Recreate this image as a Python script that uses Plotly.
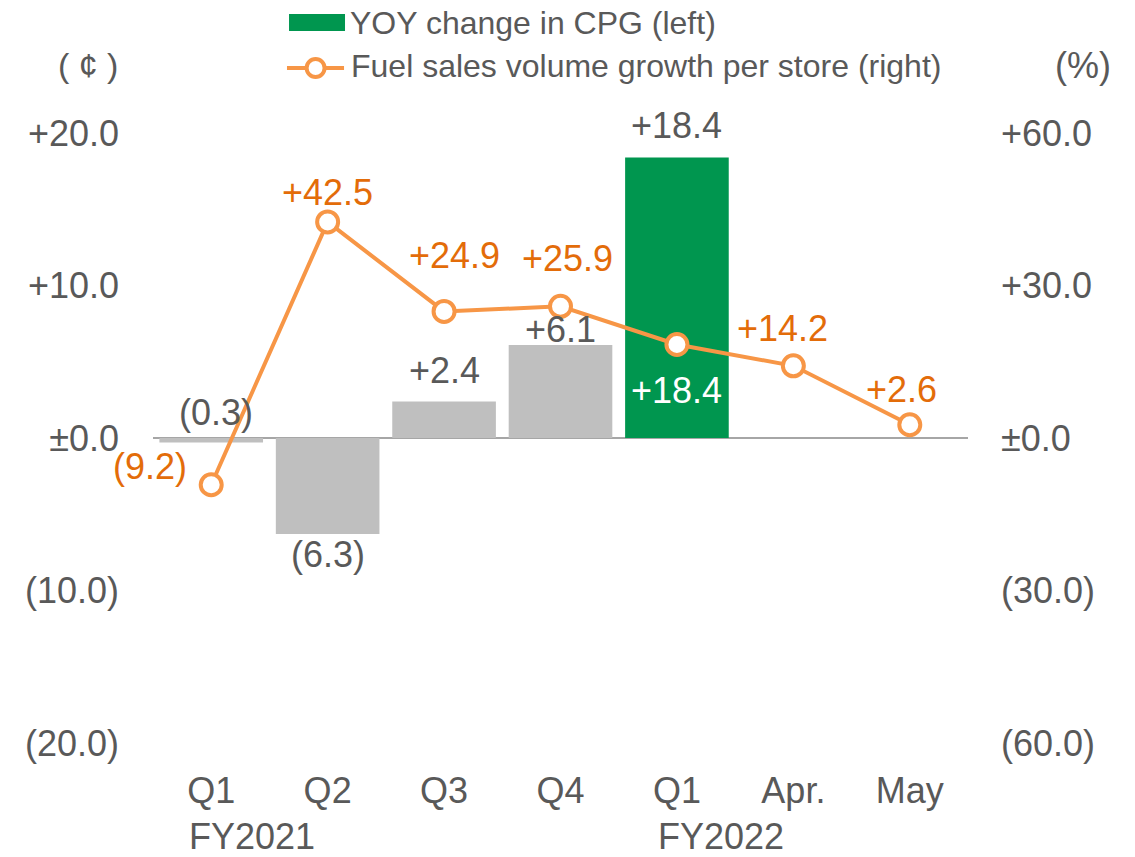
import plotly.graph_objects as go

# categories / values
categories = ["Q1", "Q2", "Q3", "Q4", "Q1", "Apr.", "May"]
fiscal_years = ["FY2021", "FY2022"]
cpg_change = [-0.3, -6.3, 2.4, 6.1, 18.4, None, None]          # left axis (cents)
fuel_growth = [-9.2, 42.5, 24.9, 25.9, 18.4, 14.2, 2.6]         # right axis (%)
left_ticks = [-20, -10, 0, 10, 20]
left_ticktext = ["(20.0)", "(10.0)", "±0.0", "+10.0", "+20.0"]
right_ticks = [-60, -30, 0, 30, 60]
right_ticktext = ["(60.0)", "(30.0)", "±0.0", "+30.0", "+60.0"]
bar_name = "YOY change in CPG (left)"
line_name = "Fuel sales volume growth per store (right)"

GRAY_TXT = "#595959"
ORANGE = "#F79646"
ORANGE_TXT = "#E36C09"
GREEN = "#00964F"
BAR_GRAY = "#BFBFBF"
FONT = "Liberation Sans, Arial, sans-serif"
FS = 36


def fmt(v):
    if v < 0:
        return f"({abs(v):.1f})"
    return f"+{v:.1f}"


x = list(range(len(categories)))
bar_colors = [BAR_GRAY] * 4 + [GREEN] + [BAR_GRAY] * 2

fig = go.Figure()
fig.add_trace(go.Bar(
    x=x, y=cpg_change, marker=dict(color=bar_colors, line=dict(width=0)),
    name=bar_name, yaxis="y", showlegend=False))
fig.add_trace(go.Scatter(
    x=x, y=fuel_growth, mode="lines+markers", name=line_name, yaxis="y2",
    line=dict(color=ORANGE, width=4),
    marker=dict(symbol="circle", size=21, color="white",
                line=dict(color=ORANGE, width=4)),
    showlegend=False))

annotations = []

# bar labels: anchor value, pixel shift
bar_label_shift = [(5, 26, True), (0, -20, False), (0, 31, False), (0, 15, False), (0, 32, False)]
for i, v in enumerate(cpg_change):
    if v is None:
        continue
    dx, dy, at_zero = bar_label_shift[i]
    annotations.append(dict(
        x=i, y=0 if at_zero else v, xref="x", yref="y", text=fmt(v),
        showarrow=False, xshift=dx, yshift=dy,
        font=dict(size=FS, color=GRAY_TXT, family=FONT)))

# line labels
line_label_shift = [(-61, 18), (0, 29), (10, 56), (7, 48), (0, -46), (-11, 37), (-8, 35)]
line_label_color = [ORANGE_TXT] * 4 + ["white"] + [ORANGE_TXT] * 2
for i, v in enumerate(fuel_growth):
    dx, dy = line_label_shift[i]
    annotations.append(dict(
        x=i, y=v, xref="x", yref="y2", text=fmt(v), showarrow=False,
        xshift=dx, yshift=dy,
        font=dict(size=FS, color=line_label_color[i], family=FONT)))

# fiscal-year row under the quarters
for fy, pos in zip(fiscal_years, [0.35, 4.38]):
    annotations.append(dict(
        x=pos, y=-0.1525, xref="x", yref="paper", text=fy, showarrow=False,
        xanchor="center", yanchor="middle",
        font=dict(size=FS, color=GRAY_TXT, family=FONT)))

# axis unit titles
annotations.append(dict(x=-0.0798, y=1.111, xref="paper", yref="paper", text="( ¢ )",
                        xanchor="center", yanchor="middle", showarrow=False,
                        font=dict(size=34, color=GRAY_TXT, family=FONT)))
annotations.append(dict(x=1.141, y=1.111, xref="paper", yref="paper", text="(%)",
                        xanchor="center", yanchor="middle", showarrow=False,
                        font=dict(size=36, color=GRAY_TXT, family=FONT)))

# hand-drawn legend
annotations.append(dict(x=0.2405, y=1.1803, xref="paper", yref="paper", text=bar_name,
                        xanchor="left", yanchor="middle", showarrow=False, borderpad=0,
                        font=dict(size=32, color=GRAY_TXT, family=FONT)))
annotations.append(dict(x=0.2405, y=1.1098, xref="paper", yref="paper", text=line_name,
                        xanchor="left", yanchor="middle", showarrow=False,
                        font=dict(size=32, color=GRAY_TXT, family=FONT)))
shapes = [
    dict(type="rect", xref="paper", yref="paper", x0=0.1669, x1=0.2356,
         y0=1.1672, y1=1.1950, fillcolor=GREEN, line=dict(width=0)),
    dict(type="line", xref="paper", yref="paper", x0=0.1644, x1=0.2344,
         y0=1.1066, y1=1.1066, line=dict(color=ORANGE, width=4)),
    dict(type="circle", xref="paper", yref="paper", x0=0.1885, x1=0.2105,
         y0=1.0918, y1=1.1213, fillcolor="white", line=dict(color=ORANGE, width=4)),
]

# page body adds an 8px offset, so the figure is 8px smaller each way
fig.update_layout(
    width=1127, height=849,
    margin=dict(l=145, r=167, t=125, b=114),
    plot_bgcolor="white", paper_bgcolor="white",
    bargap=0.11,
    font=dict(family=FONT, color=GRAY_TXT, size=FS),
    xaxis=dict(range=[-0.5, 6.5], tickmode="array", tickvals=x, ticktext=categories,
               showgrid=False, showline=False, zeroline=False, ticks="",
               ticklabelstandoff=23, tickfont=dict(size=FS, color=GRAY_TXT)),
    yaxis=dict(range=[-20, 20], tickmode="array", tickvals=left_ticks,
               ticktext=left_ticktext, showgrid=False, showline=False,
               zeroline=True, zerolinecolor="#A6A6A6", zerolinewidth=1.5,
               ticks="", ticklabelstandoff=33, tickfont=dict(size=FS, color=GRAY_TXT)),
    yaxis2=dict(range=[-60, 60], overlaying="y", side="right", tickmode="array",
                tickvals=right_ticks, ticktext=right_ticktext, showgrid=False,
                zeroline=False, showline=False, ticks="", ticklabelstandoff=32,
                tickfont=dict(size=FS, color=GRAY_TXT)),
    annotations=annotations,
    shapes=shapes,
    showlegend=False,
)

fig.write_html("out.html")
